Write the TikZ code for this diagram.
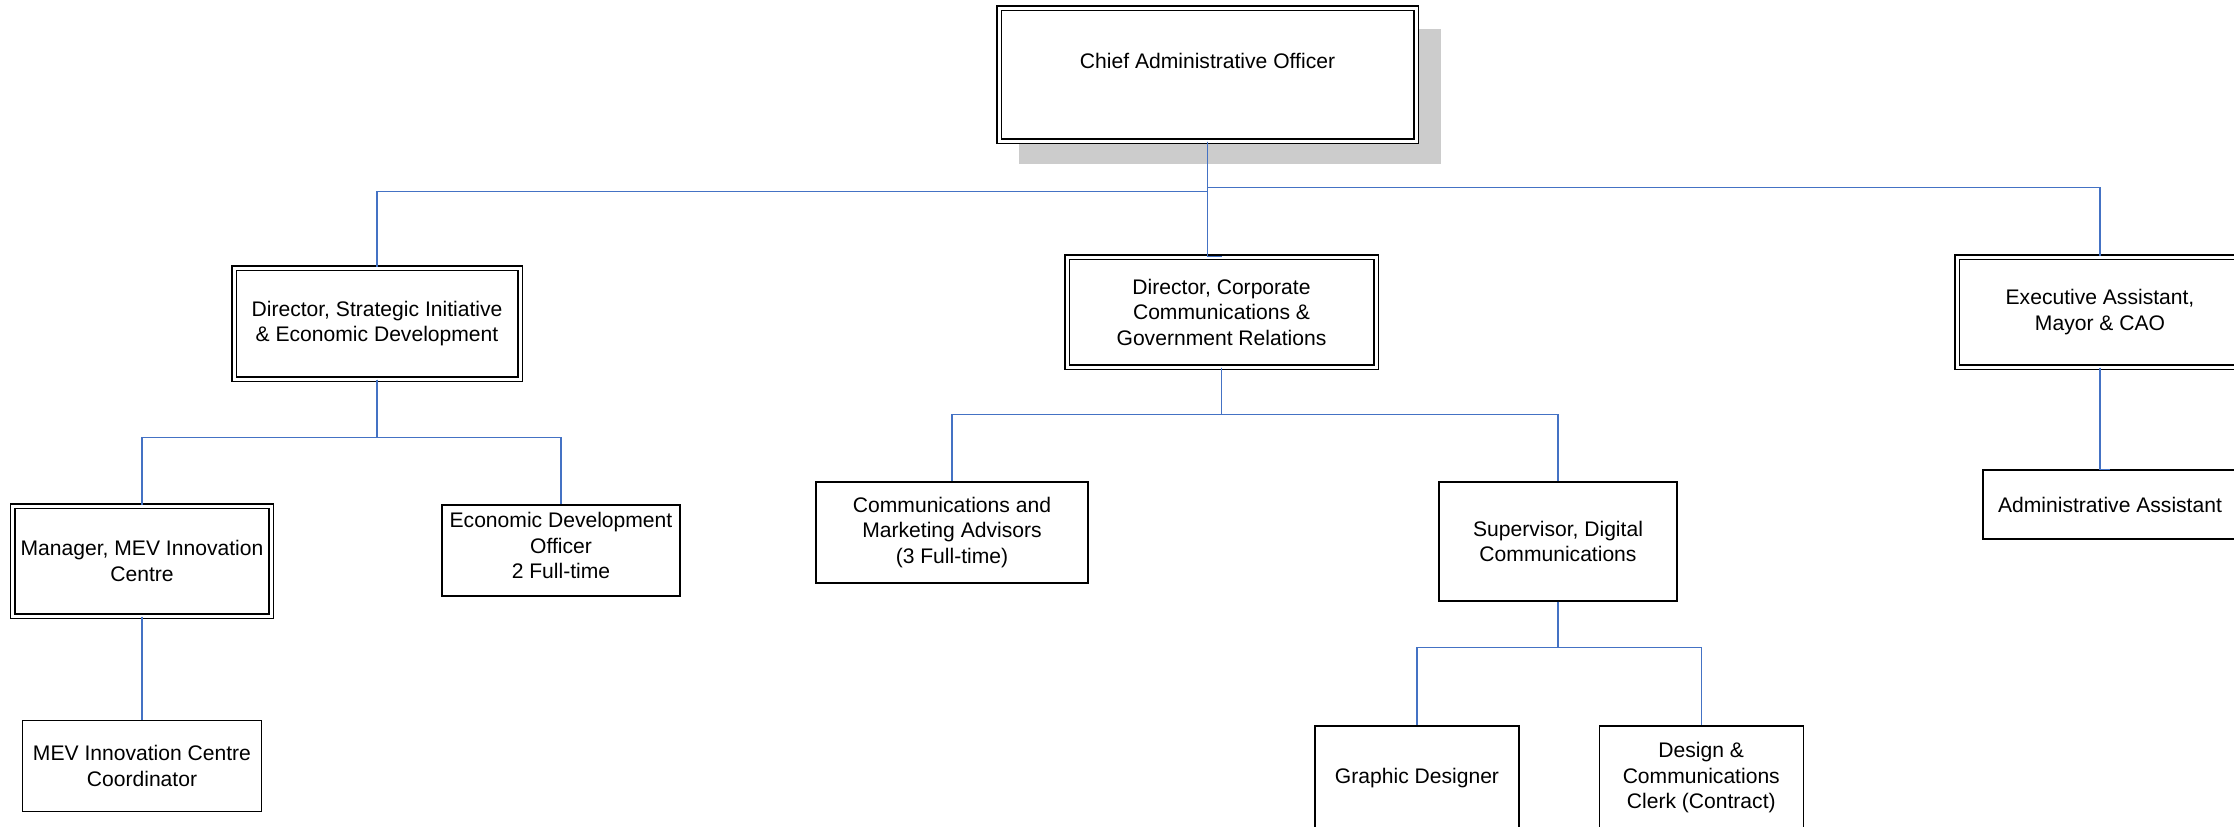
\documentclass[tikz,border=0pt]{standalone}
\usepackage{fontspec}
\setmainfont{Liberation Sans}
\usetikzlibrary{positioning,backgrounds}
\definecolor{linkblue}{RGB}{68,114,196}
\definecolor{shadowgray}{RGB}{204,204,204}

\begin{document}
\begin{tikzpicture}[
  x=0.2mm, y=-0.2mm,
  boxtext/.style={align=center, font=\fontsize{12}{14.5}\selectfont},
  headbox/.style={draw, double, double distance=0.6mm, line width=0.25mm, fill=white, inner sep=0.5mm, boxtext},
  staffbox/.style={draw, line width=0.25mm, fill=white, inner sep=0.5mm, boxtext},
  link/.style={draw=linkblue, line width=0.3mm}
]
  \useasboundingbox (0,0) rectangle (2234,826);

  % top
  \node[headbox, minimum width=83.4mm, minimum height=26.6mm,
    label={[name=caotext, boxtext, yshift=2.8mm]center:Chief Administrative Officer}] (cao) at (1207.5,74.5) {};

  % directors
  \node[headbox, minimum width=57.2mm, minimum height=22.2mm] (dirsi) at (377,323.5) {Director, Strategic Initiative\\\& Economic Development};
  \node[headbox, minimum width=61.8mm, minimum height=22mm] (dircc) at (1221.5,312) {Director, Corporate\\Communications \&\\Government Relations};
  \node[headbox, minimum width=57.2mm, minimum height=22mm] (exec) at (2100,312) {Executive Assistant,\\Mayor \& CAO};

  % strategic initiative staff
  \node[headbox, minimum width=51.6mm, minimum height=22mm] (mgr) at (142,561) {Manager, MEV Innovation\\Centre};
  \node[staffbox, minimum width=47.6mm, minimum height=18.2mm,
    label={[name=edotext, boxtext, yshift=1mm]center:Economic Development\\Officer\\2 Full-time}] (edo) at (561,550.5) {};
  \node[staffbox, minimum width=47.8mm, minimum height=18.2mm, below=20.6mm of mgr] (coord) {MEV Innovation Centre\\Coordinator};

  % communications staff
  \node[staffbox, minimum width=54.4mm, minimum height=20.2mm] (comm) at (952,532.5) {Communications and\\Marketing Advisors\\(3 Full-time)};
  \node[staffbox, minimum width=47.6mm, minimum height=23.8mm] (sup) at (1558,541.5) {Supervisor, Digital\\Communications};
  \node[staffbox, minimum width=40.8mm, minimum height=20.8mm] (graph) at (1417,778) {Graphic Designer};
  \node[staffbox, minimum width=40.8mm, minimum height=20.8mm, right=15.8mm of graph] (clerk) {Design \&\\Communications\\Clerk (Contract)};

  % office of the mayor
  \node[staffbox, minimum width=50.8mm, minimum height=13.8mm] (admin) at (2110,504.5) {Administrative Assistant};

  % shadow
  \begin{scope}[on background layer]
    \fill[shadowgray] ([shift={(21,22)}]cao.north west) rectangle ([shift={(24,22)}]cao.south east);
  \end{scope}

  % reporting lines
  \draw[link] (cao.south) -- ++(0,50) -| (dirsi.north);
  \draw[link] (cao.south) -- ++(0,46) -| (exec.north);
  \draw[link] (cao.south) -- (cao.south |- dircc.north) -- (dircc.north);

  \draw[link] (dirsi.south) -- ++(0,58) -| (mgr.north);
  \draw[link] (dirsi.south) -- ++(0,58) -| (edo.north);
  \draw[link] (mgr.south) -- (coord.north);

  \draw[link] (dircc.south) -- ++(0,47) -| (comm.north);
  \draw[link] (dircc.south) -- ++(0,47) -| (sup.north);
  \draw[link] (sup.south) -- ++(0,46) -| (graph.north);
  \draw[link] (sup.south) -- ++(0,46) -| (clerk.north);

  \draw[link] (exec.south) -- (exec.south |- admin.north) -- (admin.north);
\end{tikzpicture}
\end{document}
